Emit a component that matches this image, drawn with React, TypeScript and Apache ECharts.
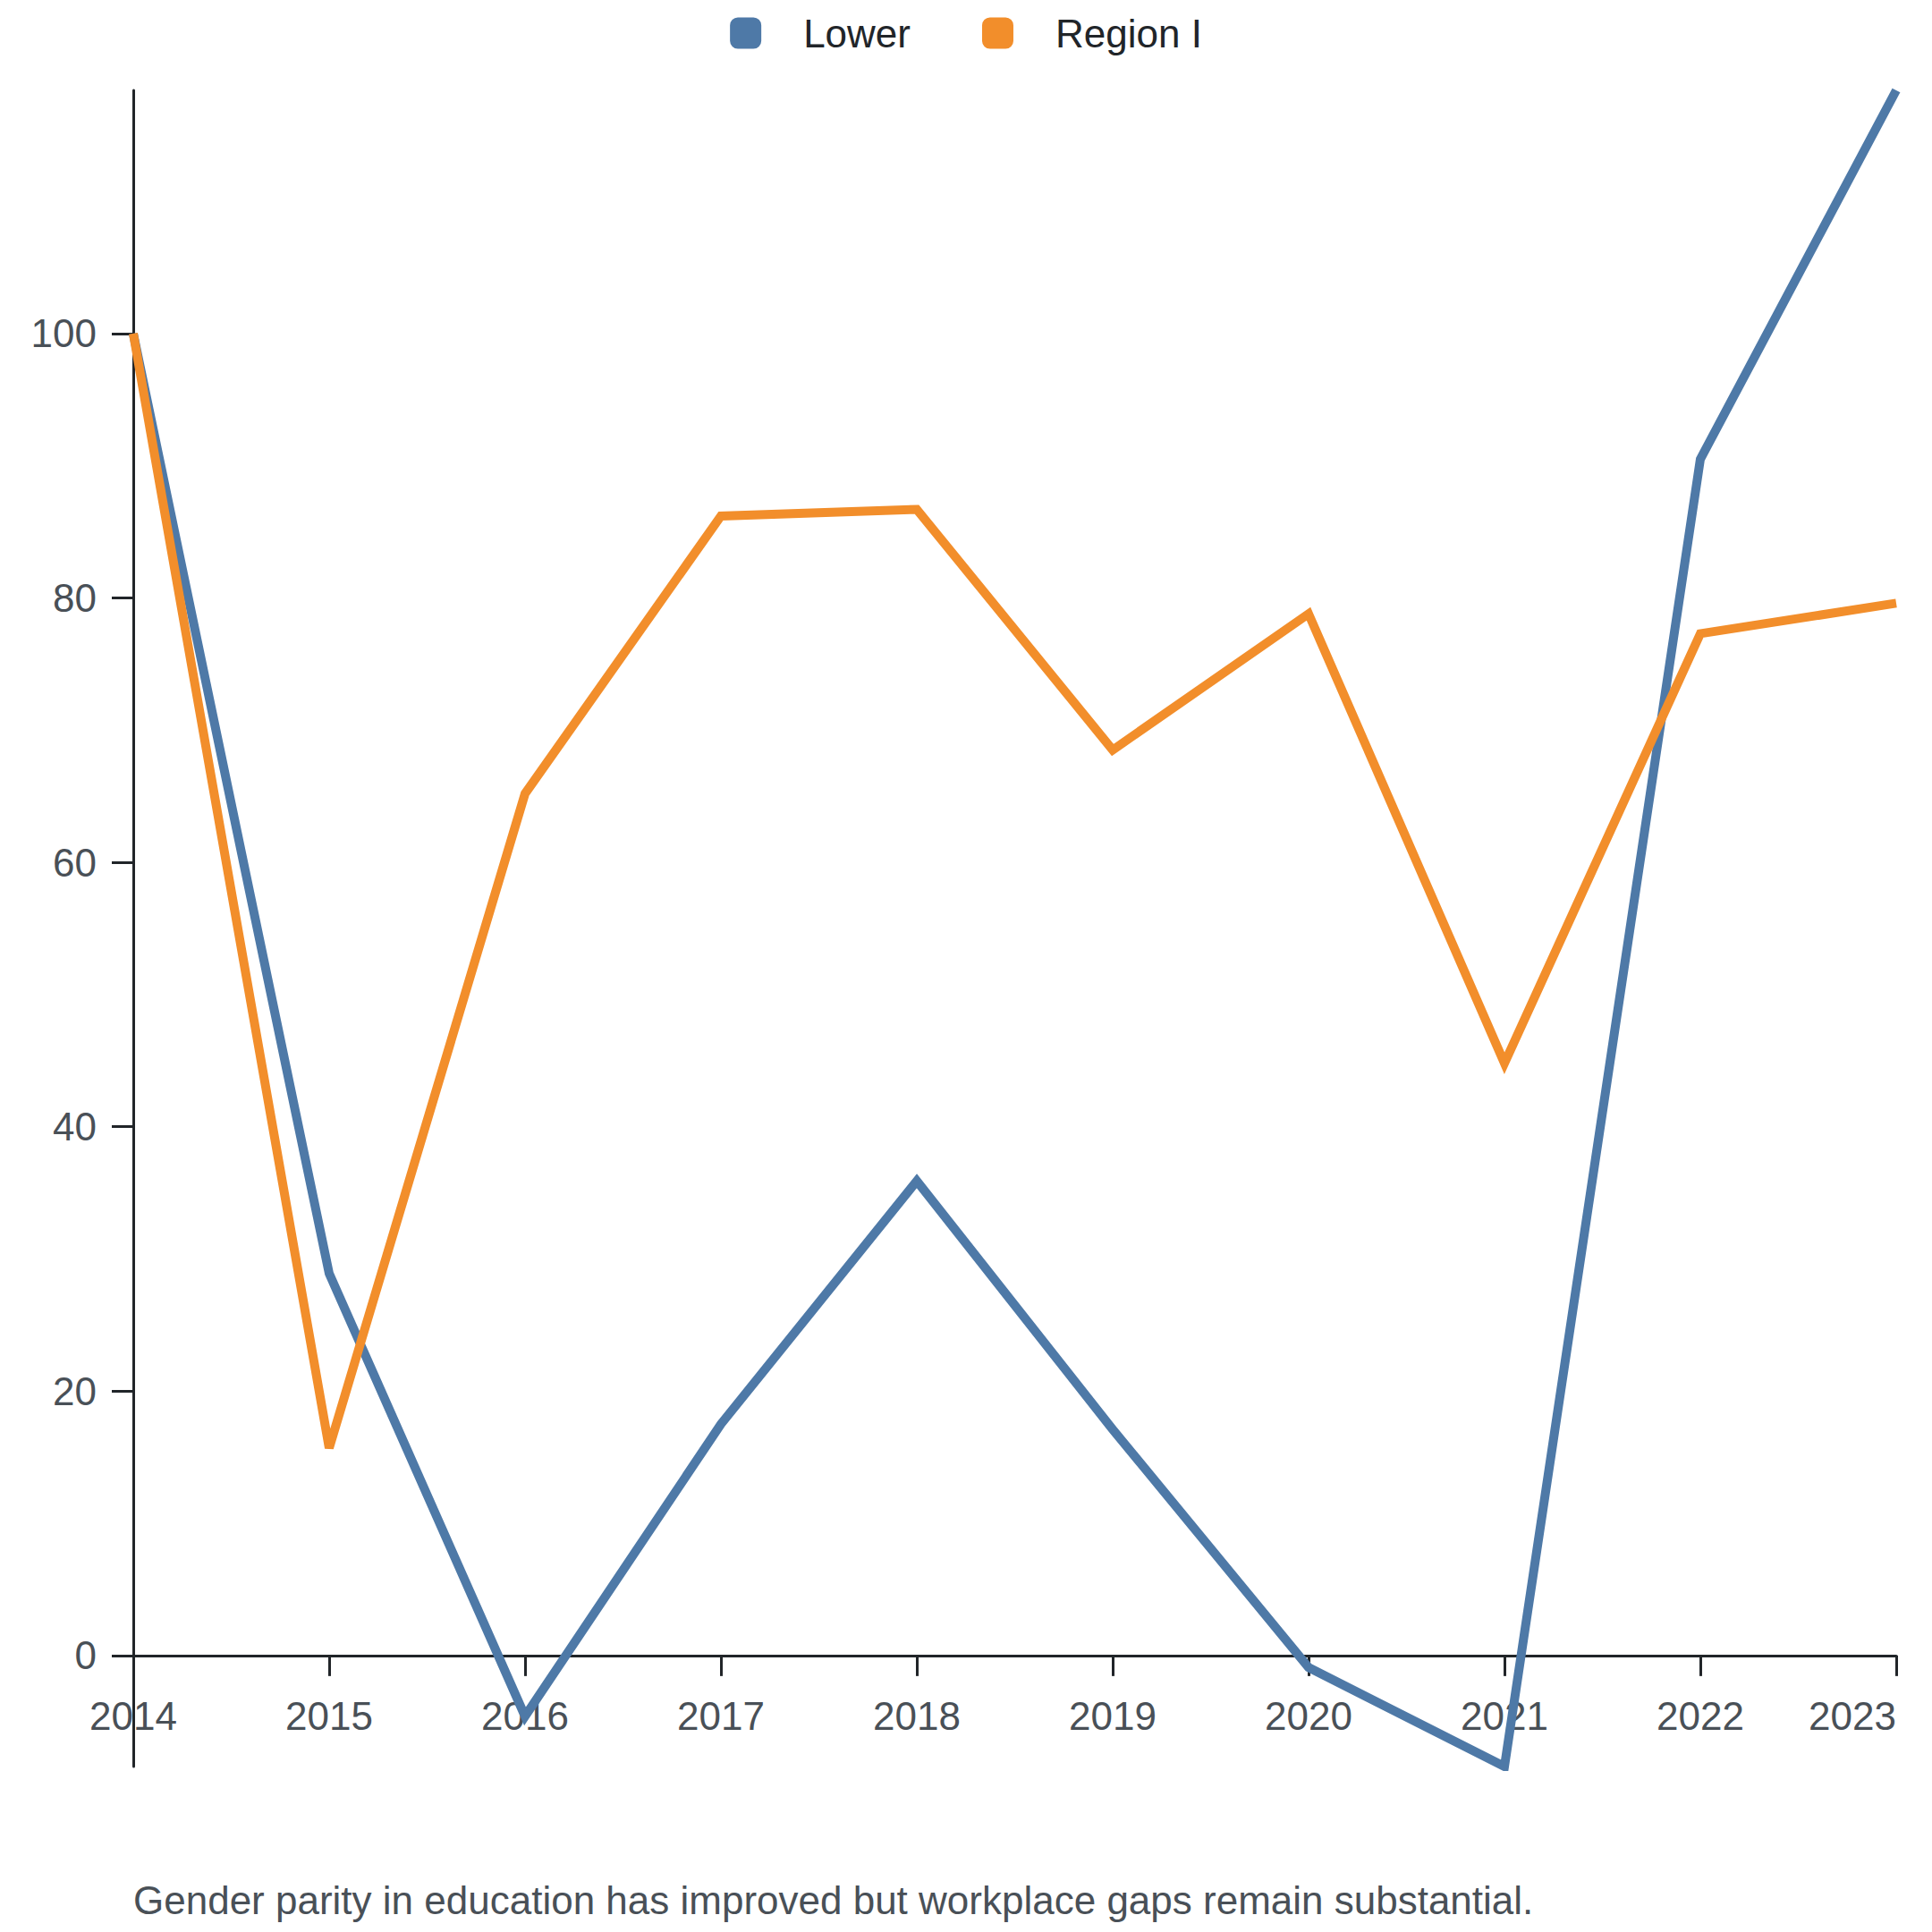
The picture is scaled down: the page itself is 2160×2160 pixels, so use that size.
import React, { useEffect, useRef } from "react";
import * as echarts from "echarts";

const years = ["2014", "2015", "2016", "2017", "2018", "2019", "2020", "2021", "2022", "2023"];
const lowerValues = [100, 28.9, -4.6, 17.5, 35.9, 17.1, -0.9, -8.4, 90.5, 118.4];
const regionValues = [100, 15.7, 65.2, 86.2, 86.7, 68.5, 78.8, 44.8, 77.3, 79.6];
const yTicks = [0, 20, 40, 60, 80, 100];
const footnote = "Gender parity in education has improved but workplace gaps remain substantial.";

const FONT = "'Liberation Sans', Arial, Helvetica, sans-serif";
const AXIS_COLOR = "#212529";
const LABEL_COLOR = "#495057";

export default function App() {
  const ref = useRef<HTMLDivElement>(null);
  useEffect(() => {
    if (!ref.current) return;
    const chart = echarts.init(ref.current, null, { renderer: "svg" });
    chart.setOption({
      animation: false,
      backgroundColor: "#ffffff",
      textStyle: { fontFamily: FONT },
      legend: {
        top: 10,
        left: "center",
        icon: "roundRect",
        itemWidth: 35,
        itemHeight: 35,
        itemGap: 80,
        textStyle: {
          fontSize: 44,
          color: AXIS_COLOR,
          fontFamily: FONT,
          padding: [0, 0, 0, 42],
        },
        data: ["Lower", "Region I"],
      },
      grid: { left: 149, right: 40, top: 101, bottom: 185, containLabel: false },
      xAxis: {
        type: "category",
        data: years,
        boundaryGap: false,
        axisLine: { onZero: true, lineStyle: { color: AXIS_COLOR, width: 3 } },
        axisTick: { show: true, length: 23, alignWithLabel: true, lineStyle: { color: AXIS_COLOR, width: 3 } },
        axisLabel: {
          margin: -79,
          fontSize: 44,
          color: LABEL_COLOR,
          fontFamily: FONT,
          interval: 0,
          alignMaxLabel: "right",
        },
        splitLine: { show: false },
      },
      yAxis: {
        type: "value",
        min: "dataMin",
        max: "dataMax",
        axisLine: { show: true, onZero: false, lineStyle: { color: AXIS_COLOR, width: 3 } },
        axisTick: { show: true, length: 24, customValues: yTicks, lineStyle: { color: AXIS_COLOR, width: 3 } },
        axisLabel: {
          margin: 41,
          fontSize: 44,
          color: LABEL_COLOR,
          fontFamily: FONT,
          customValues: yTicks,
        },
        splitLine: { show: false },
      },
      series: [
        {
          name: "Lower",
          type: "line",
          data: lowerValues,
          showSymbol: false,
          symbol: "none",
          itemStyle: { color: "#4e79a7" },
          lineStyle: { color: "#4e79a7", width: 10, join: "miter", cap: "butt" },
        },
        {
          name: "Region I",
          type: "line",
          data: regionValues,
          showSymbol: false,
          symbol: "none",
          itemStyle: { color: "#f28e2b" },
          lineStyle: { color: "#f28e2b", width: 10, join: "miter", cap: "butt" },
        },
      ],
      graphic: [
        {
          type: "text",
          left: 149,
          top: 2102,
          style: {
            text: footnote,
            fontSize: 44,
            fill: LABEL_COLOR,
            fontFamily: FONT,
          },
        },
      ],
    });
    return () => chart.dispose();
  }, []);
  return (
    <div
      ref={ref}
      style={{ position: "absolute", left: 0, top: 0, width: 2160, height: 2160, background: "#fff" }}
    />
  );
}
